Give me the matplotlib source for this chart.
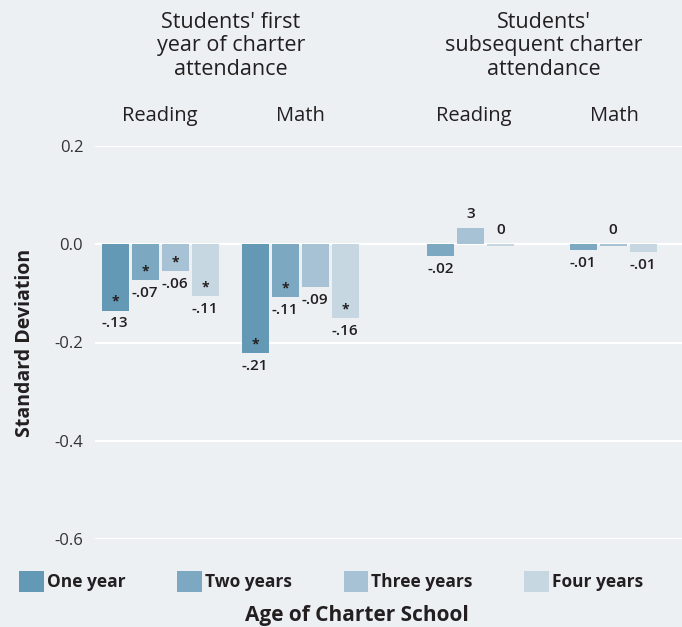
import matplotlib.pyplot as plt
import numpy as np
from matplotlib.patches import Patch

plt.rcParams['font.family'] = ['Open Sans', 'DejaVu Sans']

# values (standard deviation units)
ages = ['One year', 'Two years', 'Three years', 'Four years']
colors = ['#6499b5', '#7ca8c1', '#a7c2d4', '#c6d7e2']

first_reading = [-0.135, -0.073, -0.055, -0.106]
first_math = [-0.222, -0.108, -0.088, -0.151]
subs_reading = [-0.024, 0.033, -0.004]   # two, three, four years
subs_math = [-0.012, -0.004, -0.016]

first_reading_lbl = ['-.13', '-.07', '-.06', '-.11']
first_math_lbl = ['-.21', '-.11', '-.09', '-.16']
subs_reading_lbl = ['-.02', '3', '0']
subs_math_lbl = ['-.01', '0', '-.01']

first_reading_sig = [1, 1, 1, 1]
first_math_sig = [1, 1, 0, 1]
subs_reading_sig = [0, 0, 0]
subs_math_sig = [0, 0, 0]

yticks = [0.2, 0.0, -0.2, -0.4, -0.6]

bg = '#edf0f3'
txt = '#231f20'

fig = plt.figure(figsize=(6.82, 6.27), dpi=100, facecolor=bg)
W, H = 682, 627
ax = fig.add_axes([95 / W, 1 - 539 / H, (W - 95) / W, (539 - 146) / H])
ax.set_facecolor(bg)

# group centres in "slot" units, bars in each group sit one slot apart
groups = [
    (0.0, first_reading, first_reading_lbl, first_reading_sig, [0, 1, 2, 3]),
    (4.67, first_math, first_math_lbl, first_math_sig, [0, 1, 2, 3]),
    (10.35, subs_reading, subs_reading_lbl, subs_reading_sig, [1, 2, 3]),
    (15.1, subs_math, subs_math_lbl, subs_math_sig, [1, 2, 3]),
]
bw = 0.9

for centre, vals, lbls, sig, cidx in groups:
    n = len(vals)
    offs = np.arange(n) - (n - 1) / 2
    for o, v, lb, s, ci in zip(offs, vals, lbls, sig, cidx):
        x = centre + o
        ax.bar(x, v, width=bw, color=colors[ci], zorder=3)
        if v < 0 and lb != '0':
            ax.annotate(lb, (x, v), xytext=(0, -4), textcoords='offset points',
                        ha='center', va='top', fontsize=11, fontweight='semibold',
                        color=txt)
        else:
            ax.annotate(lb, (x, max(v, 0)), xytext=(0, 5), textcoords='offset points',
                        ha='center', va='bottom', fontsize=11, fontweight='semibold',
                        color=txt)
        if s:
            ax.annotate('*', (x, v), xytext=(0, 1.5), textcoords='offset points',
                        ha='center', va='bottom', fontsize=10, fontweight='bold',
                        color=txt)

ax.set_xlim(-2.17, 17.4)
ax.set_ylim(-0.6, 0.2)
ax.set_yticks(yticks)
ax.set_yticklabels(['%.1f' % t for t in yticks], fontsize=12, color='#333333')
ax.set_xticks([])
ax.tick_params(axis='y', length=0, pad=8.5)
ax.grid(axis='y', color='white', linewidth=1.6, zorder=0)
ax.set_axisbelow(True)
for sp in ax.spines.values():
    sp.set_visible(False)

ax.set_ylabel('Standard Deviation', fontsize=14, fontweight='bold', color=txt,
              labelpad=14)

# headers above the plot
fig.text(231 / W, 1 - 46 / H, "Students' first\nyear of charter\nattendance",
         ha='center', va='center', fontsize=15.5, color=txt, linespacing=1.15)
fig.text(544 / W, 1 - 46 / H, "Students'\nsubsequent charter\nattendance",
         ha='center', va='center', fontsize=15.5, color=txt, linespacing=1.15)
for xc, name in [(160, 'Reading'), (300, 'Math'), (474, 'Reading'), (614, 'Math')]:
    fig.text(xc / W, 1 - 116 / H, name, ha='center', va='center',
             fontsize=14.5, color=txt)

handles = [Patch(facecolor=c, edgecolor='none') for c in colors]
leg = fig.legend(handles, ages, loc='center', bbox_to_anchor=(331 / W, 1 - 581.5 / H),
                 ncol=4, frameon=False, handlelength=1.4, handleheight=1.4,
                 handletextpad=0.17, columnspacing=3.0,
                 prop={'size': 12.5, 'weight': 'bold'})
for t in leg.get_texts():
    t.set_color(txt)

fig.text(357 / W, 1 - 616 / H, 'Age of Charter School', ha='center', va='center',
         fontsize=15, fontweight='bold', color=txt)

fig.savefig('out.png', dpi=100, facecolor=bg)
